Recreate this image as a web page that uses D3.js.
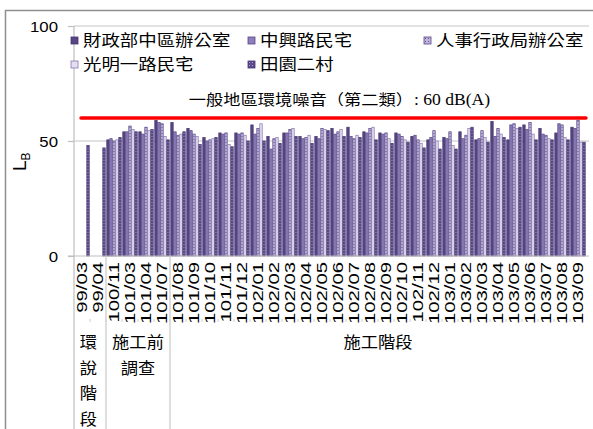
<!DOCTYPE html>
<html>
<head>
<meta charset="utf-8">
<script src="https://cdn.jsdelivr.net/npm/d3@7"></script>
<style>
  body { margin: 0; background: #fff; }
  svg { display: block; font-family: "Noto Sans CJK TC", "Noto Sans", sans-serif; }
</style>
</head>
<body>
<div id="chart"></div>
<script>
// monitoring months (ROC calendar)
const categories = [
  "99/03", "99/04", "100/11", "101/03", "101/04", "101/07",
  "101/08", "101/09", "101/10", "101/11", "101/12",
  "102/01", "102/02", "102/03", "102/04", "102/05", "102/06",
  "102/07", "102/08", "102/09", "102/10", "102/11", "102/12",
  "103/01", "103/02", "103/03", "103/04", "103/05", "103/06",
  "103/07", "103/08", "103/09"
];

const seriesNames = ["財政部中區辦公室", "中興路民宅", "人事行政局辦公室", "光明一路民宅", "田園二村"];

// L_B values, dB(A)
const finance = [null, null, 50.5, 54, 54, 59, 58, 55.5, 51.5, 53.5, 53.5, 57, 52, 53.5, 52, 52,
  55.5, 56, 54, 53.5, 53.5, 52, 50.5, 51.5, 54, 50.5, 58.5, 50.5, 57, 55.5, 53.5, 56];
const zhongxing = [null, null, 51, 54, 53, 58, 54, 54.5, 50, 53, 53, 53, 46.5, 53.5, 51, 51,
  53, 52, 53.5, 53, 53, 52.5, 51.5, 51, 51, 51, 52, 57, 55, 53, 57.5, 55.5];
const personnel = [null, null, 50, 56.5, 56, 57.5, 52.5, 53, 50.5, 53.5, 53.5, 55.5, 51, 55, 51.5, 55.5,
  54, 51, 55.5, 53.5, 52, 50.5, 54.5, 54, 52.5, 54.5, 55.5, 57.5, 58, 52.5, 57, 59];
const guangming = [null, null, 50.5, 55, 54.5, 52, 53, 52, 51, 48.5, 52.5, 57.5, 51.5, 55.5, 52.5, 55,
  55, 52.5, 56, 51, 50.5, 49, 50, 48, 55.5, 51.5, 53, 55.5, 53, 51, 51.5, 49.5];
const tianyuan = [48, 47, 51.5, 54, 55, 50.5, 54, 48.5, 51.5, 47.5, 50, 50, 49, 52, 49, 54.5,
  52, 51.5, 50.5, 49, 49.5, 47, 46.5, 46.5, 56, 49.5, 51.5, 56, 50.5, 50.5, 50.5, 49.5];
const seriesValues = [finance, zhongxing, personnel, guangming, tianyuan];

const yTicks = [0, 50, 100];
const limitValue = 60;
const limitText = "一般地區環境噪音（第二類）";
const limitUnit = ": 60 dB(A)";

// phase bands under the axis
const phaseNames = [["環", "說", "階", "段"], ["施工前", "調查"], ["施工階段"]];
const phaseStart = ["99/03", "100/11", "101/08"];
const phaseEnd = ["99/04", "101/07", "103/09"];

const W = 593, H = 429;
const plotL = 74, plotR = 586, plotT = 26, plotB = 256;

const svg = d3.select("#chart").append("svg")
  .attr("width", W)
  .attr("height", H);

// patterns for the dotted series
const defs = svg.append("defs");
function dots(id, base, dot) {
  const p = defs.append("pattern").attr("id", id)
    .attr("width", 3).attr("height", 3).attr("patternUnits", "userSpaceOnUse");
  p.append("rect").attr("width", 3).attr("height", 3).attr("fill", base);
  p.append("rect").attr("x", 1).attr("y", 1).attr("width", 1).attr("height", 1).attr("fill", dot);
}
dots("dotLight", "#bfb5dc", "#65558f");
dots("dotDark", "#5c4a8a", "#aaa0cd");

const fills = ["#574584", "#8d7fb9", "url(#dotLight)", "#e4deef", "url(#dotDark)"];
const strokes = ["#45366f", "#574584", "#574584", "#8577b3", "#45366f"];

const x0 = d3.scaleBand().domain(categories).range([plotL, plotR])
  .paddingInner(0.06).paddingOuter(0.03);
const x1 = d3.scaleBand().domain(seriesNames).range([0, x0.bandwidth()]);
const y = d3.scaleLinear().domain([0, 100]).range([plotB, plotT]);

// text with a horizontal stretch, the picture's fonts are wide
function wideText(g, x, yy, str, size, sx, anchor) {
  return g.append("text")
    .attr("transform", "translate(" + x + "," + yy + ") scale(" + sx + ",1)")
    .attr("text-anchor", anchor || "start")
    .attr("font-size", size)
    .attr("fill", "#000")
    .text(str);
}

// outer frame
svg.append("path")
  .attr("d", "M5.5," + H + "V10.5H" + W)
  .attr("fill", "none").attr("stroke", "#8f8f8f").attr("stroke-width", 1.5);

// gridlines
svg.append("g").selectAll("line")
  .data(yTicks.filter(d => d > 0))
  .join("line")
  .attr("x1", plotL).attr("x2", plotR + 3)
  .attr("y1", d => y(d)).attr("y2", d => y(d))
  .attr("stroke", "#d9d9d9").attr("stroke-width", 1.5);

// y axis
const yAxis = svg.append("g")
  .attr("transform", "translate(" + plotL + ",0)")
  .call(d3.axisLeft(y).tickValues(yTicks).tickSize(6).tickSizeOuter(0));
yAxis.select(".domain").remove();
yAxis.selectAll(".tick line").attr("stroke", "#bfbfbf").attr("stroke-width", 1.2);
yAxis.selectAll(".tick text").remove();
yAxis.selectAll(".tick").each(function (d) {
  wideText(d3.select(this), -16, 5, d, 14, 1.2, "end").attr("font-family", "Liberation Sans, Arial, sans-serif");
});

// y axis title L_B
const yTitle = svg.append("text")
  .attr("transform", "translate(26,171) rotate(-90)")
  .attr("font-family", "Liberation Sans, Arial, sans-serif")
  .attr("font-size", 19);
yTitle.append("tspan").text("L");
yTitle.append("tspan").attr("font-size", 12).attr("dy", 4).text("B");

// bars
const rows = categories.map((c, i) => ({
  cat: c,
  vals: seriesNames.map((s, j) => ({ key: s, j: j, v: seriesValues[j][i] })).filter(d => d.v != null)
}));

svg.append("g").selectAll("g")
  .data(rows)
  .join("g")
  .attr("transform", d => "translate(" + x0(d.cat) + ",0)")
  .selectAll("rect")
  .data(d => d.vals)
  .join("rect")
  .attr("x", d => x1(d.key) + 0.3)
  .attr("y", d => y(d.v))
  .attr("width", x1.bandwidth() - 0.6)
  .attr("height", d => plotB - y(d.v))
  .attr("fill", d => fills[d.j])
  .attr("stroke", d => strokes[d.j])
  .attr("stroke-width", 0.7);

// x axis line and y axis line
svg.append("line")
  .attr("x1", plotL - 6).attr("x2", plotR + 3)
  .attr("y1", plotB).attr("y2", plotB)
  .attr("stroke", "#bfbfbf").attr("stroke-width", 1.2);

const boundary = c => x0(c) - x0.step() * x0.paddingInner() / 2;
svg.append("line")
  .attr("x1", plotL).attr("x2", plotL)
  .attr("y1", plotT).attr("y2", H)
  .attr("stroke", "#bfbfbf").attr("stroke-width", 1.2);
svg.append("g").selectAll("line")
  .data(phaseStart.slice(1))
  .join("line")
  .attr("x1", d => boundary(d)).attr("x2", d => boundary(d))
  .attr("y1", plotB).attr("y2", H)
  .attr("stroke", "#c8c8c8").attr("stroke-width", 1.2);

// small ticks between the month labels
svg.append("g").selectAll("line")
  .data(categories.slice(1))
  .join("line")
  .attr("x1", d => boundary(d)).attr("x2", d => boundary(d))
  .attr("y1", 319).attr("y2", 322)
  .attr("stroke", "#d0d0d0");

// month labels, rotated
const xAxis = svg.append("g")
  .attr("transform", "translate(0," + plotB + ")")
  .call(d3.axisBottom(x0).tickSize(0));
xAxis.select(".domain").remove();
xAxis.selectAll(".tick text")
  .attr("font-family", "Liberation Sans, Arial, sans-serif")
  .attr("font-size", 14)
  .attr("fill", "#000")
  .attr("text-anchor", "end")
  .attr("y", null).attr("dy", "0.36em")
  .attr("transform", "translate(0,6) rotate(-90) scale(1.45,1)");

// limit line 60 dB(A)
svg.append("line")
  .attr("x1", 81).attr("x2", plotR)
  .attr("y1", y(limitValue)).attr("y2", y(limitValue))
  .attr("stroke", "#ff0000").attr("stroke-width", 3.5)
  .attr("stroke-linecap", "round");
wideText(svg, 413, 105, limitText, 15, 1.15, "end");
wideText(svg, 414, 105, limitUnit, 16, 1.1, "start")
  .attr("font-family", "Liberation Serif, Times New Roman, serif");

// legend
const legX = [71, 248, 424];
const legend = svg.append("g").selectAll("g")
  .data(seriesNames)
  .join("g")
  .attr("transform", (d, i) => "translate(" + legX[i % 3] + "," + (i < 3 ? 37 : 61) + ")");
legend.append("rect")
  .attr("width", 7).attr("height", 7)
  .attr("fill", (d, i) => fills[i])
  .attr("stroke", (d, i) => strokes[i]).attr("stroke-width", 0.8);
legend.each(function (d) {
  wideText(d3.select(this), 12, 8.5, d, 15.5, 1.19);
});

// phase labels
const lineGap = 25.5;
phaseNames.forEach((lines, i) => {
  const a = x0(phaseStart[i]), b = x0(phaseEnd[i]) + x0.bandwidth();
  const cx = (a + b) / 2;
  lines.forEach((t, k) => {
    wideText(svg, cx - (i === 0 ? 1.5 : 0), 348 + k * lineGap, t, 16, 1.08, "middle");
  });
});
</script>
</body>
</html>
